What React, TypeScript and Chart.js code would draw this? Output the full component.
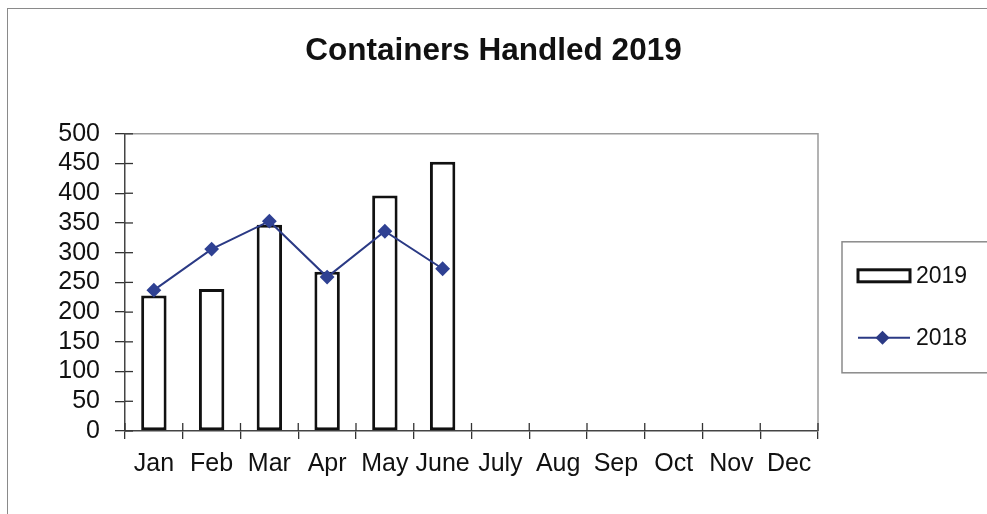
import React, { useEffect, useRef } from 'react';
import { Chart, registerables } from 'chart.js';

Chart.register(...registerables);

const months = ['Jan', 'Feb', 'Mar', 'Apr', 'May', 'June', 'July', 'Aug', 'Sep', 'Oct', 'Nov', 'Dec'];
const containers2019 = [228, 239, 347, 268, 396, 453];
const containers2018 = [237, 306, 353, 259, 336, 273];
const yMin = 0;
const yMax = 500;
const yStep = 50;
const titleText = 'Containers Handled 2019';
const label2019 = '2019';
const label2018 = '2018';

const FONT = "'Liberation Sans', Arial, Helvetica, sans-serif";
const LINE_COLOR = '#2b3a85';

const frameAndTicks = {
  id: 'frameAndTicks',
  beforeDatasetsDraw(chart: any) {
    const { ctx, chartArea: a } = chart;
    ctx.save();
    ctx.strokeStyle = '#9a9a9a';
    ctx.lineWidth = 1.5;
    ctx.beginPath();
    ctx.moveTo(a.left, a.top);
    ctx.lineTo(a.right, a.top);
    ctx.lineTo(a.right, a.bottom);
    ctx.stroke();
    // inward tick halves (ticks cross the axes)
    ctx.strokeStyle = '#333';
    ctx.lineWidth = 1.3;
    const ys = chart.scales.y;
    ys.ticks.forEach((t: any) => {
      const py = ys.getPixelForValue(t.value);
      ctx.beginPath();
      ctx.moveTo(a.left, py);
      ctx.lineTo(a.left + 8, py);
      ctx.stroke();
    });
    const xs = chart.scales.x;
    const n = xs.ticks.length;
    for (let i = 0; i <= n; i++) {
      const px = a.left + (i * (a.right - a.left)) / n;
      ctx.beginPath();
      ctx.moveTo(px, a.bottom);
      ctx.lineTo(px, a.bottom - 8);
      ctx.stroke();
    }
    ctx.restore();
  },
};

const boxedLegend = {
  id: 'boxedLegend',
  afterDraw(chart: any) {
    const { ctx, chartArea: a } = chart;
    const ds = chart.data.datasets;
    const bx = a.right + 24;
    const by = a.top + 108;
    const bw = 160;
    const bh = 131;
    ctx.save();
    ctx.strokeStyle = '#8a8a8a';
    ctx.lineWidth = 1.5;
    ctx.strokeRect(bx, by, bw, bh);
    ctx.font = `23px ${FONT}`;
    ctx.textBaseline = 'middle';
    ctx.textAlign = 'left';
    // bar item
    const y1 = by + 34;
    ctx.fillStyle = '#fff';
    ctx.fillRect(bx + 16, y1 - 6, 52, 12);
    ctx.strokeStyle = '#111';
    ctx.lineWidth = 3;
    ctx.strokeRect(bx + 16, y1 - 6, 52, 12);
    ctx.fillStyle = '#111';
    ctx.fillText(ds[0].label, bx + 74, y1 + 1);
    // line item
    const y2 = by + 96;
    ctx.strokeStyle = LINE_COLOR;
    ctx.lineWidth = 2;
    ctx.beginPath();
    ctx.moveTo(bx + 16, y2);
    ctx.lineTo(bx + 68, y2);
    ctx.stroke();
    ctx.fillStyle = LINE_COLOR;
    ctx.beginPath();
    ctx.moveTo(bx + 40.5, y2 - 7);
    ctx.lineTo(bx + 47.5, y2);
    ctx.lineTo(bx + 40.5, y2 + 7);
    ctx.lineTo(bx + 33.5, y2);
    ctx.closePath();
    ctx.fill();
    ctx.fillStyle = '#111';
    ctx.fillText(ds[1].label, bx + 74, y2 + 1);
    ctx.restore();
  },
};

export default function App() {
  const canvasRef = useRef<HTMLCanvasElement | null>(null);

  useEffect(() => {
    const canvas = canvasRef.current;
    if (!canvas) return;
    const chart = new Chart(canvas, {
      type: 'bar',
      data: {
        labels: months,
        datasets: [
          {
            type: 'bar',
            label: label2019,
            data: containers2019,
            backgroundColor: '#ffffff',
            borderColor: '#111111',
            borderWidth: 3,
            borderSkipped: false,
            categoryPercentage: 1,
            barPercentage: 0.44,
            order: 2,
          },
          {
            type: 'line',
            label: label2018,
            data: containers2018,
            borderColor: LINE_COLOR,
            borderWidth: 2,
            backgroundColor: LINE_COLOR,
            pointStyle: 'rectRot',
            pointRadius: 6,
            pointBackgroundColor: '#2f4193',
            pointBorderColor: '#2f4193',
            tension: 0,
            order: 1,
          } as any,
        ],
      },
      options: {
        responsive: true,
        maintainAspectRatio: false,
        animation: false,
        layout: { padding: 0 },
        plugins: {
          legend: { display: false },
          tooltip: { enabled: false },
          title: {
            display: true,
            text: titleText,
            color: '#111',
            font: { family: FONT, size: 31.5, weight: 'bold', lineHeight: 1.2 },
            padding: { top: 32, bottom: 64 },
          },
        },
        scales: {
          x: {
            type: 'category',
            offset: true,
            grid: {
              display: true,
              offset: true,
              drawOnChartArea: false,
              drawTicks: true,
              tickLength: 8,
              color: '#333',
              lineWidth: 1.3,
            },
            border: { display: true, color: '#444', width: 1.5 },
            ticks: {
              color: '#111',
              font: { family: FONT, size: 25 },
              padding: 10,
              maxRotation: 0,
              autoSkip: false,
            },
            afterFit: (s: any) => {
              s.height = 83;
            },
          },
          y: {
            type: 'linear',
            position: 'left',
            min: yMin,
            max: yMax,
            grid: {
              display: true,
              drawOnChartArea: false,
              drawTicks: true,
              tickLength: 10,
              color: '#333',
              lineWidth: 1.3,
            },
            border: { display: true, color: '#444', width: 1.5 },
            ticks: {
              stepSize: yStep,
              color: '#111',
              font: { family: FONT, size: 25, lineHeight: 1 },
              padding: 15,
              autoSkip: false,
            },
            afterFit: (s: any) => {
              s.width = 125;
            },
          },
          legendSpace: {
            type: 'linear',
            position: 'right',
            display: true,
            grid: { display: false },
            border: { display: false },
            ticks: { display: false },
            afterFit: (s: any) => {
              s.width = 169;
            },
          },
        } as any,
      },
      plugins: [frameAndTicks, boxedLegend],
    });
    return () => chart.destroy();
  }, []);

  return (
    <div style={{ position: 'fixed', left: 0, top: 0, width: 987, height: 514, background: '#fff', overflow: 'hidden' }}>
      <div
        style={{
          position: 'absolute',
          left: 7,
          top: 8,
          width: 1100,
          height: 700,
          borderLeft: '1.5px solid #8a8a8a',
          borderTop: '1.5px solid #8a8a8a',
          pointerEvents: 'none',
        }}
      />
      <div style={{ position: 'absolute', left: 0, top: 0, width: 987, height: 514 }}>
        <canvas ref={canvasRef} />
      </div>
    </div>
  );
}
